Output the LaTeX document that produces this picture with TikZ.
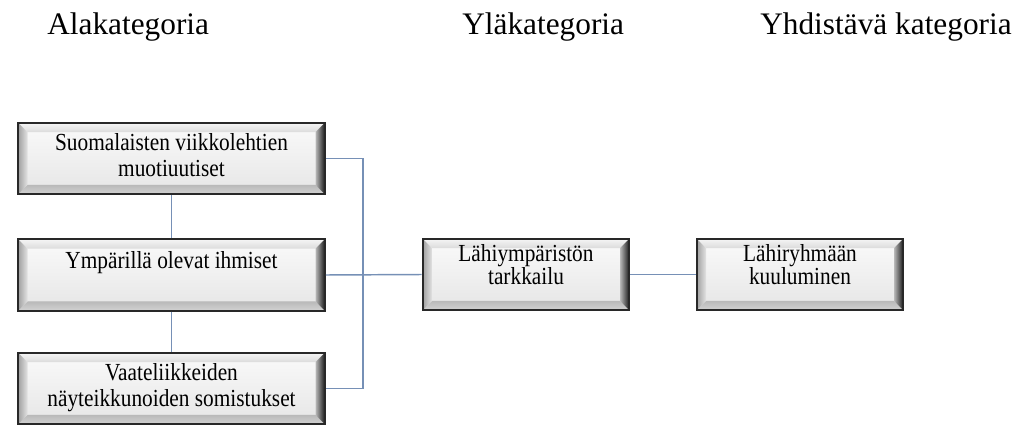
\documentclass[tikz,border=0pt]{standalone}
\usepackage{fontspec}
\setmainfont{Liberation Serif}
\usetikzlibrary{calc}

\definecolor{linkblue}{RGB}{118,144,182}
\definecolor{edgedark}{RGB}{40,40,40}

% stretched text lines inside the bevelled boxes; optional lift of the text block
% (the lift keeps the original size, so the node stays centred on its box)
\newsavebox{\bxsave}
\newcommand{\boxtxt}[2][0pt]{%
  \sbox{\bxsave}{\scalebox{1}[1.15]{\begin{tabular}{@{}c@{}}#2\end{tabular}}}%
  \raisebox{#1}{\smash{\usebox{\bxsave}}}\vphantom{\usebox{\bxsave}}}

\tikzset{
  bevelbox/.style={
    draw=edgedark, line width=1.4pt,
    top color=gray!4, bottom color=gray!20,
    minimum height=53.5pt, inner sep=0pt,
    font=\fontsize{16}{17}\selectfont,
    path picture={
      \coordinate (sw) at (path picture bounding box.south west);
      \coordinate (ne) at (path picture bounding box.north east);
      \coordinate (nw) at (sw|-ne);
      \coordinate (se) at (ne|-sw);
      % top bevel
      \shade[top color=gray!8, bottom color=gray!28]
        (nw) -- (ne) -- ($(ne)+(-7pt,-7pt)$) -- ($(nw)+(7pt,-7pt)$) -- cycle;
      % bottom bevel
      \shade[top color=gray!55, bottom color=gray!35]
        (sw) -- (se) -- ($(se)+(-7pt,7pt)$) -- ($(sw)+(7pt,7pt)$) -- cycle;
      % left bevel
      \shade[left color=gray!75, right color=gray!22]
        (sw) -- (nw) -- ($(nw)+(7pt,-7pt)$) -- ($(sw)+(7pt,7pt)$) -- cycle;
      % right bevel
      \shade[left color=gray!55, right color=black!90]
        (se) -- (ne) -- ($(ne)+(-7pt,-7pt)$) -- ($(se)+(-7pt,7pt)$) -- cycle;
    }
  },
  wide/.style={bevelbox, minimum width=230pt},
  narrow/.style={bevelbox, minimum width=155pt},
  link/.style={draw=linkblue, line width=1.1pt},
  header/.style={font=\fontsize{23.5}{26}\selectfont, inner sep=0pt}
}

\begin{document}
\begin{tikzpicture}[x=0.75pt, y=-0.75pt]
  \useasboundingbox (0,0) rectangle (1022,425);

  % column headings
  \node[header, anchor=base west] (h1) at (47,34) {Alakategoria};
  \node[header, anchor=base west] (h2) at (462,34) {Yläkategoria};
  \node[header, anchor=base east] (h3) at (1012,34) {Yhdistävä kategoria};

  % sub-categories
  \node[wide] (b1) at (171.5,158.5) {\boxtxt{Suomalaisten viikkolehtien\\muotiuutiset}};
  \node[wide] (b2) at (171.5,275) {\boxtxt[9pt]{Ympärillä olevat ihmiset}};
  \node[wide] (b3) at (171.5,388.5) {\boxtxt{Vaateliikkeiden\\näyteikkunoiden somistukset}};

  % upper and joining categories
  \node[narrow] (b4) at (526,274.5) {\boxtxt[5pt]{Lähiympäristön\\[-2pt]tarkkailu}};
  \node[narrow] (b5) at (800,274.5) {\boxtxt[5pt]{Lähiryhmään\\[-2pt]kuuluminen}};

  \coordinate (j) at (363,275);

  % connectors
  \draw[link] (b1.south) -- (b2.north);
  \draw[link] (b2.south) -- (b3.north);
  \draw[link] (b1.east) -| (j) |- (b3.east);
  \draw[link] (b2.east) -- (b4.west);
  \draw[link] (b4.east) -- (b5.west);
\end{tikzpicture}
\end{document}
